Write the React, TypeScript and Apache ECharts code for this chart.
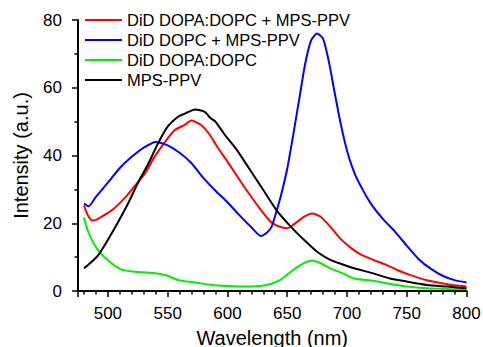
import React, { useEffect, useRef } from "react";
import * as echarts from "echarts";

const seriesNames = [
  "DiD DOPA:DOPC + MPS-PPV",
  "DiD DOPC + MPS-PPV",
  "DiD DOPA:DOPC",
  "MPS-PPV",
];
const seriesColors = ["#ff0000", "#0000ff", "#00ee00", "#000000"];

const redNm = [480, 483, 487, 490, 497, 505, 514, 522, 531, 539, 548, 556, 564, 570, 578, 585, 592, 600, 613, 627, 636, 642, 650, 655, 664, 671, 678, 686, 694, 703, 711, 722, 731, 742, 753, 767, 784, 800];
const redVal = [25.2, 22.5, 20.8, 21, 22.4, 24.3, 27.4, 30.8, 34.7, 39.6, 44.1, 47.5, 49, 50.3, 49, 46.2, 42.3, 38.2, 31.3, 24.4, 20.5, 19.2, 18.5, 19.5, 21.9, 22.9, 21.9, 19, 15.6, 12.8, 10.9, 9.2, 8, 6.2, 4.7, 3.2, 2.0, 1.3];

const blueNm = [480, 484, 490, 500, 510, 520, 530, 540, 550, 560, 570, 580, 590, 600, 610, 620, 628, 633, 637, 641, 645, 650, 655, 660, 665, 670, 675, 680, 685, 690, 695, 700, 705, 710, 720, 730, 740, 750, 760, 770, 780, 790, 800];
const blueVal = [25.8, 25, 27.8, 32, 36.3, 39.6, 42.3, 44, 43, 40.8, 37.7, 33.3, 29.6, 26.2, 22.4, 18.8, 16.2, 17.2, 19, 23.5, 28.5, 36, 46, 56.5, 67, 74, 76, 74.5, 67.5, 58, 49, 41.5, 36, 32, 25.8, 21.3, 17.6, 13.4, 9.4, 6.6, 4.5, 3.2, 2.5];

const greenNm = [480, 483, 488, 494, 503, 511, 522, 536, 548, 559, 573, 587, 600, 614, 633, 644, 655, 664, 671, 678, 686, 696, 706, 722, 736, 750, 767, 785, 800];
const greenVal = [21.7, 18, 14.1, 11.1, 8.2, 6.4, 5.7, 5.4, 4.7, 3.2, 2.5, 1.8, 1.5, 1.3, 1.8, 3.2, 6.2, 8.2, 9.0, 8.2, 6.7, 5.3, 3.7, 3.0, 2.1, 1.3, 0.8, 0.6, 0.5];

const blackNm = [480, 486, 492, 500, 508, 517, 525, 534, 542, 550, 559, 564, 573, 581, 586, 590, 597, 608, 619, 630, 641, 653, 664, 675, 686, 696, 706, 722, 736, 750, 767, 784, 800];
const blackVal = [6.7, 8.5, 10.6, 15.1, 20, 25.9, 31.8, 37.7, 43.6, 48.5, 51.5, 52.3, 53.6, 52.9, 51, 50, 46.5, 41.6, 35.7, 29.8, 23.9, 19, 15.1, 11.6, 9.2, 7.9, 6.7, 5.2, 3.7, 2.8, 1.8, 1.3, 0.8];

const allNm = [redNm, blueNm, greenNm, blackNm];
const allVal = [redVal, blueVal, greenVal, blackVal];

const FONT = "'Liberation Sans', Arial, sans-serif";

export default function App() {
  const ref = useRef<HTMLDivElement>(null);
  useEffect(() => {
    document.body.style.margin = "0";
    if (!ref.current) return;
    const chart = echarts.init(ref.current, undefined, { renderer: "svg" });
    chart.setOption({
      animation: false,
      backgroundColor: "#ffffff",
      textStyle: { fontFamily: FONT },
      grid: {
        left: 78,
        right: 16.5,
        top: 20,
        bottom: 56,
        containLabel: false,
        outerBoundsMode: "none",
      },
      legend: {
        orient: "vertical",
        left: 85,
        top: 10,
        padding: 0,
        itemGap: 0,
        itemWidth: 37,
        itemHeight: 2,
        icon: "rect",
        data: seriesNames,
        textStyle: {
          fontFamily: FONT,
          fontSize: 16.5,
          lineHeight: 20,
          color: "#000",
        },
      },
      xAxis: {
        type: "value",
        min: 475,
        max: 800,
        name: "Wavelength (nm)",
        nameLocation: "middle",
        nameGap: 37,
        nameTextStyle: { fontFamily: FONT, fontSize: 20, color: "#000" },
        axisLine: { show: true, lineStyle: { color: "#000", width: 2 } },
        axisTick: { show: true, inside: false, length: 6, lineStyle: { color: "#000", width: 1.5 } },
        minorTick: { show: true, splitNumber: 5, length: 3.5, lineStyle: { color: "#000", width: 1.5 } },
        axisLabel: {
          showMinLabel: false,
          margin: 14,
          fontFamily: FONT,
          fontSize: 17,
          color: "#000",
        },
        splitLine: { show: false },
        minorSplitLine: { show: false },
      },
      yAxis: {
        type: "value",
        min: 0,
        max: 80,
        interval: 20,
        name: "Intensity (a.u.)",
        nameLocation: "middle",
        nameGap: 47,
        nameTextStyle: { fontFamily: FONT, fontSize: 20, color: "#000" },
        axisLine: { show: true, lineStyle: { color: "#000", width: 2 } },
        axisTick: { show: true, inside: false, length: 6, lineStyle: { color: "#000", width: 1.5 } },
        minorTick: { show: true, splitNumber: 2, length: 3.5, lineStyle: { color: "#000", width: 1.5 } },
        axisLabel: { margin: 16, fontFamily: FONT, fontSize: 17, color: "#000" },
        splitLine: { show: false },
        minorSplitLine: { show: false },
      },
      series: seriesNames.map((name, i) => ({
        name,
        type: "line",
        data: allNm[i].map((x, j) => [x, allVal[i][j]]),
        showSymbol: false,
        symbol: "none",
        smooth: 0.2,
        color: seriesColors[i],
        lineStyle: { color: seriesColors[i], width: 2 },
        itemStyle: { color: seriesColors[i] },
      })),
    });
    return () => chart.dispose();
  }, []);
  return <div ref={ref} style={{ width: 483, height: 347 }} />;
}
